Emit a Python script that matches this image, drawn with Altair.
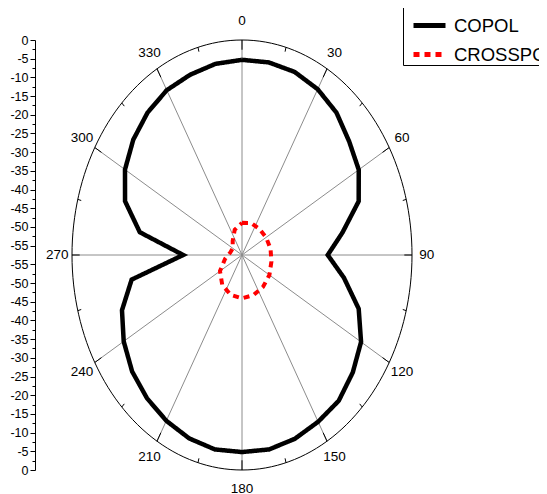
import altair as alt
import pandas as pd

R = 57.5  # dB span: outer ring = 0 dB, centre = -57.5 dB
FONT = "Liberation Sans Narrow, Liberation Sans, Arial"

ANGLES = list(range(0, 361, 10))
COPOL = [-5.3, -5.2, -5.4, -6.3, -7.8, -10.2, -11.9, -15.5, -23.0, -28.5,
         -22.5, -15.5, -11.0, -8.6, -6.6, -6.0, -5.2, -4.7, -4.8,
         -4.7, -5.3, -6.3, -7.5, -9.0, -11.3, -14.3, -19.6, -37.6,
         -22.4, -15.4, -11.8, -9.5, -7.8, -6.6, -6.2, -5.6, -5.3]

X_ANGLES = list(range(0, 361, 20))
CROSSPOL = [-48.9, -48.4, -48.4, -48.1, -47.7, -47.4, -46.8, -46.4, -46.1, -45.9,
            -46.2, -47.1, -48.9, -51.7, -53.5, -53.9, -52.6, -50.3, -48.9]

SERIES = ["COPOL", "CROSSPOL"]
COLORS = ["black", "red"]
DASHES = [[1, 0], [6, 5]]

ANGLE_TICKS = list(range(0, 360, 30))
MINOR_ANGLE_TICKS = list(range(15, 360, 30))
Y_MAJOR_LABELS = list(range(0, -60, -5))  # 0 ... -55

# axis positions (radial distance from centre, both halves)
y_major_pos = [R + v for v in Y_MAJOR_LABELS]
y_minor_pos = [R + v - 2.5 for v in Y_MAJOR_LABELS[:-1]]
y_values = sorted(set(y_major_pos + [-p for p in y_major_pos] + y_minor_pos + [-p for p in y_minor_pos]))

pattern = pd.DataFrame({
    "angle": ANGLES + X_ANGLES,
    "dB": COPOL + CROSSPOL,
    "series": ["COPOL"] * len(ANGLES) + ["CROSSPOL"] * len(X_ANGLES),
})

xs = alt.Scale(domain=[-R, R], nice=False, zero=False)
ys = alt.Scale(domain=[-R, R], nice=False, zero=False)

major_test = f"abs(({R} - abs(datum.value)) % 5) < 0.01"
yaxis = alt.Axis(
    values=y_values,
    labelExpr=f"{major_test} ? '' + round(abs(datum.value) - {R}) : ''",
    title=None, grid=False, offset=37,
    labelFont=FONT, labelFontSize=12.5, labelColor="black", labelPadding=2,
    labelOverlap=False,
    domainColor="black", tickColor="black",
    tickSize={"condition": {"test": major_test, "value": 5}, "value": 3},
)

def X(f):
    return alt.X(f, type="quantitative", scale=xs, axis=None)

def Y(f):
    return alt.Y(f, type="quantitative", scale=ys, axis=yaxis)

# outer ring
ring = alt.Chart(alt.sequence(0, 361, 2, as_="deg")).transform_calculate(
    x=f"{R}*sin(datum.deg*PI/180)", y=f"{R}*cos(datum.deg*PI/180)"
).mark_line(color="black", strokeWidth=1).encode(x=X("x"), y=Y("y"), order="deg:Q")

# spokes
spk = pd.DataFrame({"a": ANGLE_TICKS})
spokes = alt.Chart(spk).transform_calculate(
    x0="0", y0="0",
    x1=f"{R}*sin(datum.a*PI/180)", y1=f"{R}*cos(datum.a*PI/180)"
).mark_rule(color="#8c8c8c", strokeWidth=1).encode(
    x=X("x0"), y=Y("y0"), x2="x1:Q", y2="y1:Q")

# ticks on ring
tk = pd.DataFrame({"a": ANGLE_TICKS + MINOR_ANGLE_TICKS,
                   "len": [2.6] * len(ANGLE_TICKS) + [1.2] * len(MINOR_ANGLE_TICKS)})
ticks = alt.Chart(tk).transform_calculate(
    x0=f"{R}*sin(datum.a*PI/180)", y0=f"{R}*cos(datum.a*PI/180)",
    x1=f"({R}-datum.len)*sin(datum.a*PI/180)", y1=f"({R}-datum.len)*cos(datum.a*PI/180)"
).mark_rule(color="black", strokeWidth=1).encode(
    x=X("x0"), y=Y("y0"), x2="x1:Q", y2="y1:Q")

# angle labels
lab = pd.DataFrame({"a": ANGLE_TICKS, "t": [str(a) for a in ANGLE_TICKS]})
labels = alt.Chart(lab).transform_calculate(
    x=f"({R}+5.0)*sin(datum.a*PI/180)", y=f"({R}+5.0)*cos(datum.a*PI/180)"
).mark_text(font=FONT, fontSize=13.5, color="black", align="center", baseline="middle").encode(
    x=X("x"), y=Y("y"), text="t:N")

legend = alt.Legend(
    title=None, orient="none", legendX=331, legendY=-33,
    strokeColor="black", fillColor="white", padding=0, cornerRadius=0,
    symbolType="stroke", symbolSize=1024, symbolStrokeWidth=5, symbolOffset=8,
    labelFont=FONT, labelFontSize=18.5, labelColor="black", labelOffset=6,
    rowPadding=-5, labelLimit=300,
)

def series_layer(name, width):
    return alt.Chart(pattern).transform_filter(
        alt.datum.series == name
    ).transform_calculate(
        rad=f"datum.dB + {R}",
        x="datum.rad*sin(datum.angle*PI/180)",
        y="datum.rad*cos(datum.angle*PI/180)",
    ).mark_line(strokeWidth=width).encode(
        x=X("x"), y=Y("y"), order="angle:Q",
        stroke=alt.Stroke("series:N", scale=alt.Scale(domain=SERIES, range=COLORS), legend=legend),
        strokeDash=alt.StrokeDash("series:N", scale=alt.Scale(domain=SERIES, range=DASHES), legend=legend),
    )

chart = alt.layer(
    spokes, ring, ticks, labels,
    series_layer("COPOL", 4.5), series_layer("CROSSPOL", 4),
).properties(
    width=340, height=430,
    padding={"left": 64, "top": 32, "right": 127, "bottom": 32},
    autosize=alt.AutoSizeParams(type="none"),
).configure_view(stroke=None)

chart.save("out.html", embed_options={"renderer": "svg", "actions": False})
